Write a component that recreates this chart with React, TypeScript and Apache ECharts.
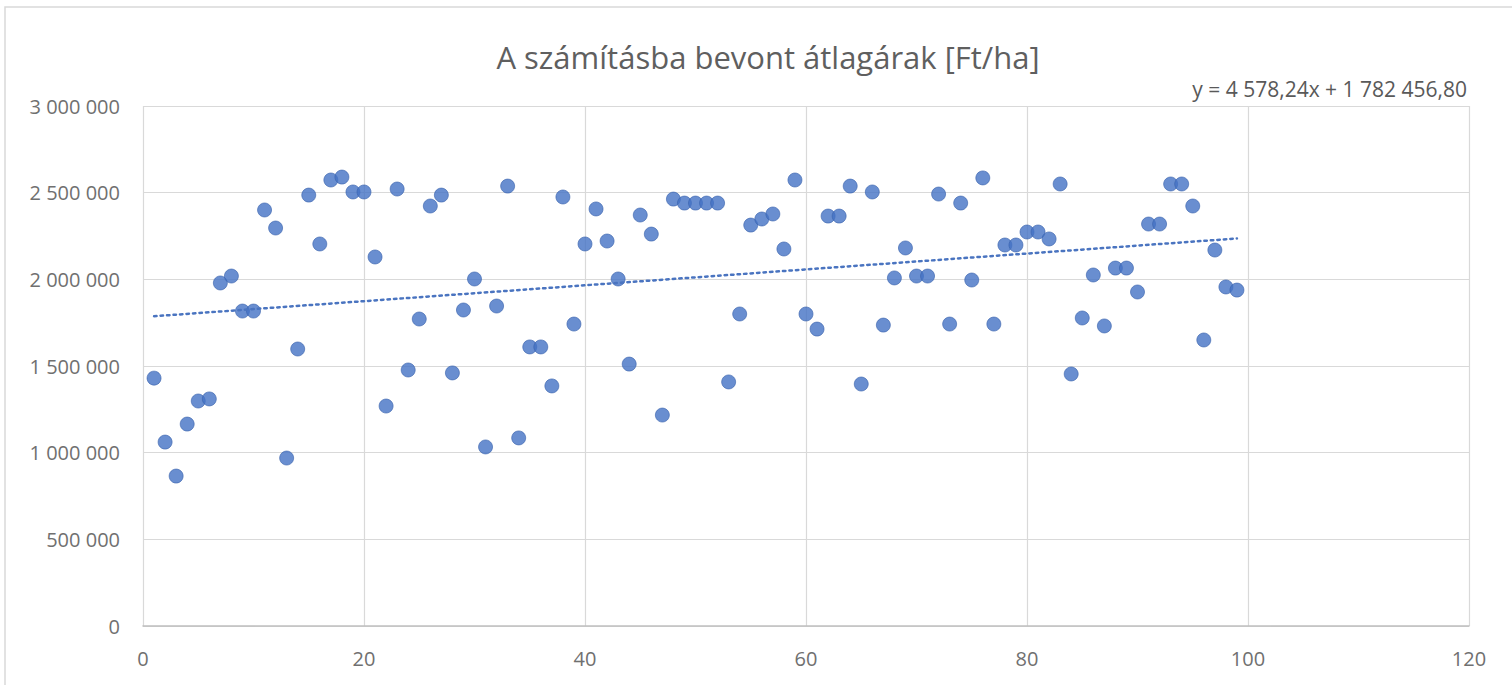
import React, { useEffect, useRef } from "react";
import * as echarts from "echarts";

const TITLE = "A számításba bevont átlagárak [Ft/ha]";
const EQUATION = "y = 4 578,24x + 1 782 456,80";

const xValues: number[] = Array.from({ length: 99 }, (_, i) => i + 1);

const yValues: number[] = [
  1430000, 1061000, 865000, 1165000, 1298000, 1310000, 1979000, 2019000, 1817000, 1817000,
  2400000, 2296000, 969000, 1598000, 2486000, 2204000, 2573000, 2590000, 2504000, 2504000,
  2129000, 1269000, 2521000, 1477000, 1771000, 2423000, 2486000, 1460000, 1823000, 2002000,
  1033000, 1846000, 2538000, 1085000, 1610000, 1610000, 1385000, 2475000, 1742000, 2204000,
  2406000, 2221000, 2002000, 1511000, 2371000, 2261000, 1217000, 2463000, 2440000, 2440000,
  2440000, 2440000, 1408000, 1800000, 2313000, 2348000, 2377000, 2175000, 2573000, 1800000,
  1713000, 2365000, 2365000, 2538000, 1396000, 2504000, 1736000, 2008000, 2181000, 2019000,
  2019000, 2492000, 1742000, 2440000, 1996000, 2585000, 1742000, 2198000, 2198000, 2273000,
  2273000, 2233000, 2550000, 1454000, 1777000, 2025000, 1731000, 2065000, 2065000, 1927000,
  2319000, 2319000, 2550000, 2550000, 2423000, 1650000, 2169000, 1956000, 1938000,
];

const TREND_SLOPE = 4578.24;
const TREND_INTERCEPT = 1782456.8;
const TREND_X = [1, 99];

const X_MIN = 0, X_MAX = 120, X_STEP = 20;
const Y_MIN = 0, Y_MAX = 3000000, Y_STEP = 500000;

const fmt = (v: number) => String(Math.round(v)).replace(/\B(?=(\d{3})+(?!\d))/g, " ");

export default function App() {
  const ref = useRef<HTMLDivElement>(null);
  useEffect(() => {
    if (!ref.current) return;
    const chart = echarts.init(ref.current, undefined, { renderer: "svg" });
    const points = xValues.map((x, i) => [x, yValues[i]]);
    const trend = TREND_X.map((x) => [x, TREND_SLOPE * x + TREND_INTERCEPT]);
    const font = "'Open Sans', sans-serif";
    chart.setOption({
      animation: false,
      backgroundColor: "#ffffff",
      title: {
        text: TITLE,
        left: 763,
        textAlign: "center",
        top: 36,
        textStyle: { fontFamily: font, fontSize: 31, fontWeight: "normal", color: "#5f5f5f" },
      },
      grid: { left: 143, right: 43, top: 106, bottom: 59, containLabel: false },
      xAxis: {
        type: "value",
        min: X_MIN,
        max: X_MAX,
        interval: X_STEP,
        axisLine: { show: true, lineStyle: { color: "#bfbfbf", width: 1.5 } },
        axisTick: { show: false },
        axisLabel: { fontFamily: font, fontSize: 20, color: "#707070", margin: 22 },
        splitLine: { show: true, lineStyle: { color: "#d9d9d9", width: 1.2 } },
      },
      yAxis: {
        type: "value",
        min: Y_MIN,
        max: Y_MAX,
        interval: Y_STEP,
        axisLine: { show: false },
        axisTick: { show: false },
        axisLabel: { fontFamily: font, fontSize: 20, color: "#707070", margin: 23, formatter: (v: number) => fmt(v) },
        splitLine: { show: true, lineStyle: { color: "#d9d9d9", width: 1.2 } },
      },
      graphic: [
        {
          type: "rect",
          shape: { x: 5, y: 7, width: 1530, height: 700 },
          style: { fill: "none", stroke: "#d9d9d9", lineWidth: 1.5 },
          silent: true,
        },
        {
          type: "text",
          x: 1467,
          y: 89,
          style: {
            text: EQUATION,
            fontFamily: font,
            fontSize: 21,
            fill: "#595959",
            textAlign: "right",
            textVerticalAlign: "middle",
          },
        },
      ],
      series: [
        {
          type: "scatter",
          data: points,
          symbol: "circle",
          symbolSize: 14,
          itemStyle: { color: "#4472c4", borderColor: "#3a63ad", borderWidth: 0.8 },
          z: 2,
        },
        {
          type: "line",
          data: trend,
          symbol: "none",
          lineStyle: { color: "#4a74c0", width: 2.5, type: [2.5, 4], cap: "round" },
          z: 3,
        },
      ],
    });
    return () => chart.dispose();
  }, []);
  return (
    <div
      ref={ref}
      style={{ position: "fixed", left: 0, top: 0, width: 1512, height: 685 }}
    />
  );
}
